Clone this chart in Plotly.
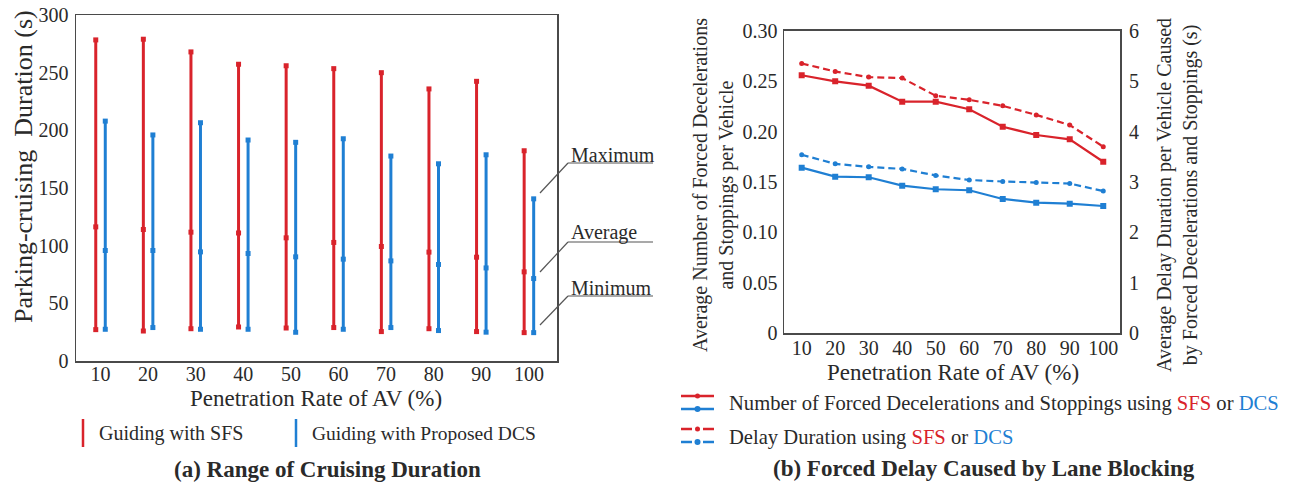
import plotly.graph_objects as go

# ---------------- data ----------------
rates = [10, 20, 30, 40, 50, 60, 70, 80, 90, 100]

# (a) range of cruising duration (s)
sfs_max = [278.4, 279.0, 268.0, 257.3, 256.0, 253.5, 250.0, 235.9, 242.5, 182.3]
sfs_avg = [116.3, 114.0, 111.7, 111.0, 106.8, 102.8, 99.3, 94.4, 90.0, 77.3]
sfs_min = [27.2, 26.0, 28.0, 29.5, 28.6, 29.0, 25.5, 28.0, 25.5, 24.6]
dcs_max = [208.0, 196.0, 206.6, 191.6, 189.6, 192.7, 177.7, 171.0, 178.8, 140.6]
dcs_avg = [95.8, 95.8, 94.6, 93.2, 90.3, 88.3, 86.8, 83.7, 80.7, 71.5]
dcs_min = [27.5, 29.0, 27.5, 27.5, 24.9, 27.5, 29.0, 26.4, 25.0, 24.6]

# (b) forced decelerations / stoppings per vehicle, and delay (s)
num_sfs = [0.2558, 0.2498, 0.2455, 0.2296, 0.2296, 0.2221, 0.2048, 0.1966, 0.1923, 0.1701]
num_dcs = [0.1642, 0.1553, 0.1547, 0.1464, 0.1428, 0.1418, 0.1332, 0.1295, 0.1285, 0.1262]
delay_sfs = [5.35, 5.19, 5.08, 5.06, 4.71, 4.63, 4.51, 4.33, 4.13, 3.70]
delay_dcs = [3.54, 3.36, 3.30, 3.26, 3.13, 3.04, 3.01, 2.99, 2.97, 2.82]

left_yticks = [0, 50, 100, 150, 200, 250, 300]
num_ticks = [0, 0.05, 0.10, 0.15, 0.20, 0.25, 0.30]
num_ticktext = ["0", "0.05", "0.10", "0.15", "0.20", "0.25", "0.30"]
delay_ticks = [0, 1, 2, 3, 4, 5, 6]

# ---------------- styling ----------------
W, H = 1292, 482
RED = "#d9232b"
BLUE = "#1f7fd3"
TXT = "#2a2a2a"
AXC = "#4a4a4a"
FONT = "'Liberation Serif', 'Times New Roman', Times, serif"
SFS_OFF, DCS_OFF = -1.0, 1.0


def px(x, y):
    return x / W, 1 - y / H


def range_trace(off, mn, av, mx, color):
    xs, ys = [], []
    for r, a, b, c in zip(rates, mn, av, mx):
        xs += [r + off, r + off, r + off, None]
        ys += [a, b, c, None]
    return go.Scatter(x=xs, y=ys, mode="lines+markers", xaxis="x", yaxis="y",
                      line=dict(color=color, width=3),
                      marker=dict(symbol="square", size=5, color=color),
                      showlegend=False, hoverinfo="skip")


fig = go.Figure()
fig.add_trace(range_trace(SFS_OFF, sfs_min, sfs_avg, sfs_max, RED))
fig.add_trace(range_trace(DCS_OFF, dcs_min, dcs_avg, dcs_max, BLUE))

fig.add_trace(go.Scatter(x=rates, y=num_sfs, xaxis="x2", yaxis="y2", mode="lines+markers",
                         line=dict(color=RED, width=2.2), marker=dict(symbol="square", size=6, color=RED),
                         showlegend=False))
fig.add_trace(go.Scatter(x=rates, y=num_dcs, xaxis="x2", yaxis="y2", mode="lines+markers",
                         line=dict(color=BLUE, width=2.2), marker=dict(symbol="square", size=6, color=BLUE),
                         showlegend=False))
fig.add_trace(go.Scatter(x=rates, y=delay_sfs, xaxis="x2", yaxis="y3", mode="lines+markers",
                         line=dict(color=RED, width=2.2, dash="7px,4px"),
                         marker=dict(symbol="circle", size=5, color=RED), showlegend=False))
fig.add_trace(go.Scatter(x=rates, y=delay_dcs, xaxis="x2", yaxis="y3", mode="lines+markers",
                         line=dict(color=BLUE, width=2.2, dash="7px,4px"),
                         marker=dict(symbol="circle", size=5, color=BLUE), showlegend=False))

tickfont = dict(family=FONT, size=20, color=TXT)
axis_common = dict(showline=True, linecolor=AXC, linewidth=1.5, mirror=True, automargin=False,
                   showgrid=False, zeroline=False, ticks="", tickfont=tickfont)

x0, _ = px(76, 0)
x1, _ = px(557, 0)
_, ytop = px(0, 15)
_, ybot = px(0, 361)
rx0, _ = px(784, 0)
rx1, _ = px(1120, 0)
_, rytop = px(0, 30.7)
_, rybot = px(0, 333.3)

fig.update_layout(
    width=W, height=H, margin=dict(l=0, r=0, t=0, b=0, pad=0, autoexpand=False),
    paper_bgcolor="white", plot_bgcolor="white",
    font=dict(family=FONT, color=TXT),
    xaxis=dict(domain=[x0, x1], range=[4.85, 105.9], tickvals=rates, anchor="y",
               ticklabelstandoff=-6, **axis_common),
    yaxis=dict(domain=[ybot, ytop], range=[0, 300], tickvals=left_yticks, anchor="x",
               ticklabelstandoff=2, **axis_common),
    xaxis2=dict(domain=[rx0, rx1], range=[4.72, 105], tickvals=rates, anchor="y2",
                ticklabelstandoff=-4, **axis_common),
    yaxis2=dict(domain=[rybot, rytop], range=[0, 0.30], tickvals=num_ticks, ticktext=num_ticktext,
                anchor="x2", ticklabelstandoff=1, **axis_common),
    yaxis3=dict(overlaying="y2", side="right", anchor="x2", range=[0, 6], tickvals=delay_ticks,
                showgrid=False, zeroline=False, ticks="", showline=False, tickfont=tickfont,
                automargin=False, ticklabelstandoff=8),
)

shapes = []
annotations = []


def ann(text, x, y, size=20, angle=0, xanchor="center", bold=False, color=TXT):
    ax, ay = px(x, y)
    if bold:
        text = "<b>" + text + "</b>"
    annotations.append(dict(text=text, x=ax, y=ay, xref="paper", yref="paper", showarrow=False,
                            xanchor=xanchor, yanchor="middle", textangle=angle,
                            font=dict(family=FONT, size=size, color=color)))


def seg(xa, ya, xb, yb, color=AXC, width=1.2):
    a = px(xa, ya)
    b = px(xb, yb)
    shapes.append(dict(type="line", xref="paper", yref="paper", x0=a[0], y0=a[1], x1=b[0], y1=b[1],
                       line=dict(color=color, width=width)))


def dot(x, y, r, color):
    a = px(x - r, y - r)
    b = px(x + r, y + r)
    shapes.append(dict(type="circle", xref="paper", yref="paper",
                       x0=a[0], y0=b[1], x1=b[0], y1=a[1], fillcolor=color, line=dict(width=0)))


# ---- panel (a) annotations ----
ann("Parking-cruising  Duration (s)", 23, 167, size=26, angle=-90)
ann("Penetration Rate of AV (%)", 316, 398, size=23)
for label, ty, uy, ey in [("Maximum", 155, 163, 193), ("Average", 232, 242, 272), ("Minimum", 288, 296, 325)]:
    ann(label, 569, ty, size=20, xanchor="left")
    seg(568, uy, 653, uy, color="#555555", width=1.2)
    seg(568, uy, 540, ey, color="#555555", width=1.2)

seg(83, 419, 83, 447, color=RED, width=2.5)
ann("Guiding with SFS", 97, 433, size=20, xanchor="left")
seg(296, 419, 296, 447, color=BLUE, width=2.5)
ann("Guiding with Proposed DCS", 310, 433, size=19.5, xanchor="left")
ann("(a) Range of Cruising Duration", 327, 469, size=23, bold=True)

# ---- panel (b) annotations ----
ann("Average Number of Forced Decelerations<br>and Stoppings per Vehicle", 714, 185, size=20, angle=-90)
ann("Average Delay Duration per Vehicle Caused<br>by Forced Decelerations and Stoppings (s)", 1177, 195,
    size=20, angle=-90)
ann("Penetration Rate of AV (%)", 953, 372, size=23)

# legend symbols
seg(681, 396, 714, 396, color=RED, width=2.5)
dot(697.5, 396, 2.5, RED)
seg(681, 409, 714, 409, color=BLUE, width=2.5)
dot(697.5, 409, 3, BLUE)
seg(681, 429, 692, 429, color=RED, width=2.5)
seg(703, 429, 714, 429, color=RED, width=2.5)
dot(697.5, 429, 2.5, RED)
seg(681, 442, 692, 442, color=BLUE, width=2.5)
seg(703, 442, 714, 442, color=BLUE, width=2.5)
dot(697.5, 442, 3, BLUE)

sfs = "<span style='color:%s'>SFS</span>" % RED
dcs = "<span style='color:%s'>DCS</span>" % BLUE
ann("Number of Forced Decelerations and Stoppings using %s or %s" % (sfs, dcs), 727, 403, size=20.6,
    xanchor="left")
ann("Delay Duration using %s or %s" % (sfs, dcs), 727, 437, size=20.6, xanchor="left")
ann("(b) Forced Delay Caused by Lane Blocking", 984, 468, size=23, bold=True)

fig.update_layout(shapes=shapes, annotations=annotations)
fig.write_html("out.html", config={"displayModeBar": False, "staticPlot": True},
               post_script="document.body.style.margin='0';document.body.style.overflow='hidden';")
